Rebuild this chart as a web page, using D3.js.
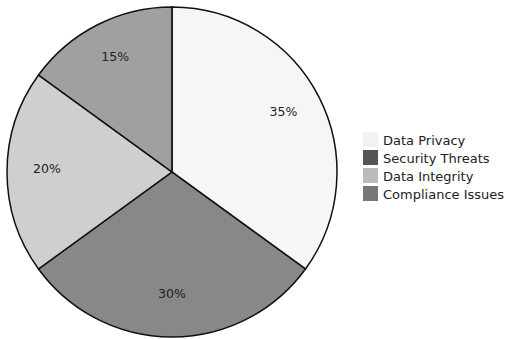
<!DOCTYPE html>
<html>
<head>
<meta charset="utf-8">
<script src="https://cdn.jsdelivr.net/npm/d3@7"></script>
<style>
  body { margin: 0; background: #fff; }
  text { font-family: "DejaVu Sans", sans-serif; fill: #222; }
</style>
</head>
<body>
<svg width="505" height="339"></svg>
<script>
var categories = ["Data Privacy", "Security Threats", "Data Integrity", "Compliance Issues"];
var values = [35, 30, 20, 15];
var colors = ["#f2f2f2", "#555555", "#bbbbbb", "#777777"];

var svg = d3.select("svg"),
  cx = 172, cy = 172, radius = 165;

var data = categories.map(function (c, i) { return { name: c, value: values[i] }; });

var color = d3.scaleOrdinal().domain(categories).range(colors);

var pie = d3.pie().sort(null).value(function (d) { return d.value; });
var arc = d3.arc().innerRadius(0).outerRadius(radius);
var labelArc = d3.arc().innerRadius(125).outerRadius(125);

var g = svg.append("g")
  .attr("transform", "translate(" + cx + "," + cy + ")");

g.selectAll(".slice")
  .data(pie(data))
  .enter().append("path")
  .attr("class", "slice")
  .attr("d", arc)
  .attr("fill", function (d) { return color(d.data.name); })
  .attr("fill-opacity", 0.7)
  .attr("stroke", "#111")
  .attr("stroke-width", 1.5);

g.selectAll(".label")
  .data(pie(data))
  .enter().append("text")
  .attr("class", "label")
  .attr("transform", function (d) { return "translate(" + labelArc.centroid(d) + ")"; })
  .attr("text-anchor", "middle")
  .attr("dy", "0.05em")
  .style("font-size", "12.5px")
  .text(function (d) { return d.data.value + "%"; });

// legend
var legend = svg.append("g")
  .attr("transform", "translate(363,132)");

var item = legend.selectAll(".item")
  .data(categories)
  .enter().append("g")
  .attr("class", "item")
  .attr("transform", function (d, i) { return "translate(0," + i * 18 + ")"; });

item.append("rect")
  .attr("width", 15)
  .attr("height", 15)
  .attr("fill", function (d) { return color(d); });

item.append("text")
  .attr("x", 20)
  .attr("y", 8)
  .attr("dy", "0.35em")
  .style("font-size", "13px")
  .text(function (d) { return d; });
</script>
</body>
</html>
